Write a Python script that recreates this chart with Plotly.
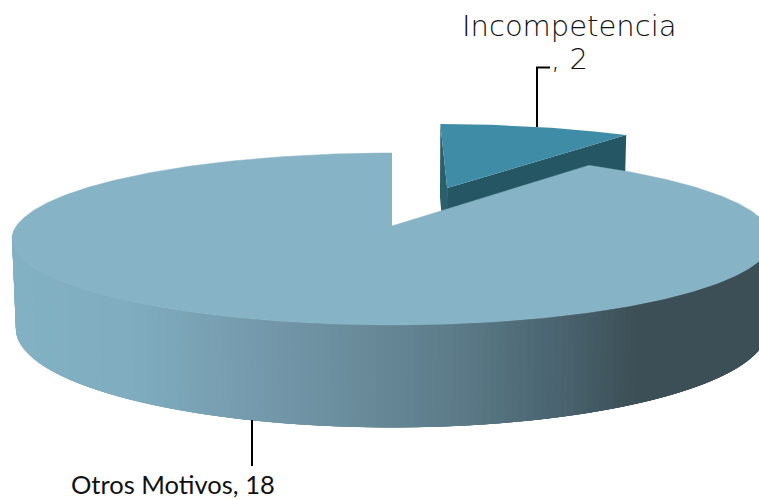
import numpy as np
import plotly.graph_objects as go

categories = ["Incompetencia", "Otros Motivos"]
values = [2, 18]

# Perspective projection of a tilted 3D pie onto the page
W, H = 759, 499
CX, CY = 392.0, 226.0      # pie centre on the page
A, B = 375.6, 84.0         # horizontal / vertical radius scale
K = 0.151                  # depth perspective
M = 0.010                  # perspective of the lower face
DROP = 89.0                # thickness
EXPLODE = 0.51             # explosion of the small slice


def project(u, v, low=False):
    w = 1 + K * np.asarray(v) + (M if low else 0)
    x = CX + A * np.asarray(u) / w
    y = CY - B * np.asarray(v) / w + (DROP / w if low else 0)
    return x, y


def arc(a0, a1, n=240, ox=0.0, oy=0.0):
    t = np.linspace(a0, a1, n)
    return ox + np.sin(t), oy + np.cos(t)


def poly(fig, xs, ys, color, lw=0.0):
    fig.add_trace(go.Scatter(
        x=np.round(xs, 2), y=np.round(ys, 2), mode="lines", fill="toself", fillcolor=color,
        line=dict(color=color, width=lw), hoverinfo="skip", showlegend=False))


fracs = np.array(values) / sum(values) * 2 * np.pi
a_small = fracs[0]
mid = a_small / 2
ox, oy = EXPLODE * np.sin(mid), EXPLODE * np.cos(mid)

fig = go.Figure()

# small slice: cut faces then top
ru = np.array([ox, ox + np.sin(a_small)])
rv = np.array([oy, oy + np.cos(a_small)])
tx, ty = project(ru, rv)
lx, ly = project(ru, rv, low=True)
poly(fig, np.r_[tx, lx[::-1]], np.r_[ty, ly[::-1]], "#245663")

ru0 = np.array([ox, ox])
rv0 = np.array([oy, oy + 1])
tx, ty = project(ru0, rv0)
lx, ly = project(ru0, rv0, low=True)
poly(fig, np.r_[tx, lx[::-1]], np.r_[ty, ly[::-1]], "#2A5F6C")

u, v = arc(0, a_small, ox=ox, oy=oy)
x, y = project(np.r_[ox, u], np.r_[oy, v])
poly(fig, x, y, "#3F8CA6")

# large slice wall: gradient strips, each running on under the next one to avoid seams
stops_x = [0, 130, 250, 350, 450, 560, 640, 759]
stops_r = [0x84, 0x80, 0x76, 0x6A, 0x5E, 0x4A, 0x3D, 0x3D]
stops_g = [0xB2, 0xAD, 0x9B, 0x8D, 0x7D, 0x64, 0x4F, 0x4F]
stops_b = [0xC5, 0xC0, 0xAE, 0x9C, 0x8B, 0x70, 0x56, 0x56]
edges = np.radians(np.arange(270, 89, -1.0))
for i in range(len(edges) - 1):
    us, vs = arc(edges[i], edges[min(i + 4, len(edges) - 1)], n=6)
    tx, ty = project(us, vs)
    lx, ly = project(us, vs, low=True)
    xm = project(np.sin(edges[i] - np.radians(0.5)), np.cos(edges[i] - np.radians(0.5)))[0]
    c = [int(np.interp(xm, stops_x, s)) for s in (stops_r, stops_g, stops_b)]
    poly(fig, np.r_[tx, lx[::-1]], np.r_[ty, ly[::-1]], f"rgb({c[0]},{c[1]},{c[2]})")

# large slice top
u, v = arc(a_small, 2 * np.pi, n=600)
x, y = project(np.r_[0, u], np.r_[0, v])
poly(fig, x, y, "#86B3C5", lw=0.5)

lead = dict(color="#000000", width=2)
shapes = [
    dict(type="line", x0=537, x1=537, y0=127, y1=67.5, line=lead),
    dict(type="line", x0=536, x1=550, y0=67.5, y1=67.5, line=lead),
    dict(type="line", x0=252, x1=252, y0=420, y1=466, line=lead),
]
annotations = [
    dict(x=569, y=26, text=categories[0], font=dict(family="DejaVu Sans", size=29, color="#111111", weight=300)),
    dict(x=569, y=59, text=f", {values[0]}", font=dict(family="DejaVu Sans", size=29, color="#111111", weight=300)),
    dict(x=173, y=484, text=f"{categories[1]}, {values[1]}", font=dict(family="Lato", size=25.5, color="#111111")),
]
for a in annotations:
    a.update(xref="x", yref="y", showarrow=False, xanchor="center", yanchor="middle")

fig.update_layout(
    width=W, height=H, margin=dict(l=0, r=0, t=0, b=0),
    paper_bgcolor="white", plot_bgcolor="white", showlegend=False,
    xaxis=dict(range=[0, W], visible=False, fixedrange=True),
    yaxis=dict(range=[H, 0], visible=False, fixedrange=True),
    shapes=shapes, annotations=annotations,
)
fig.write_html("out.html", config={"displayModeBar": False},
               post_script="document.body.style.margin='0';document.documentElement.style.overflow='hidden';")
